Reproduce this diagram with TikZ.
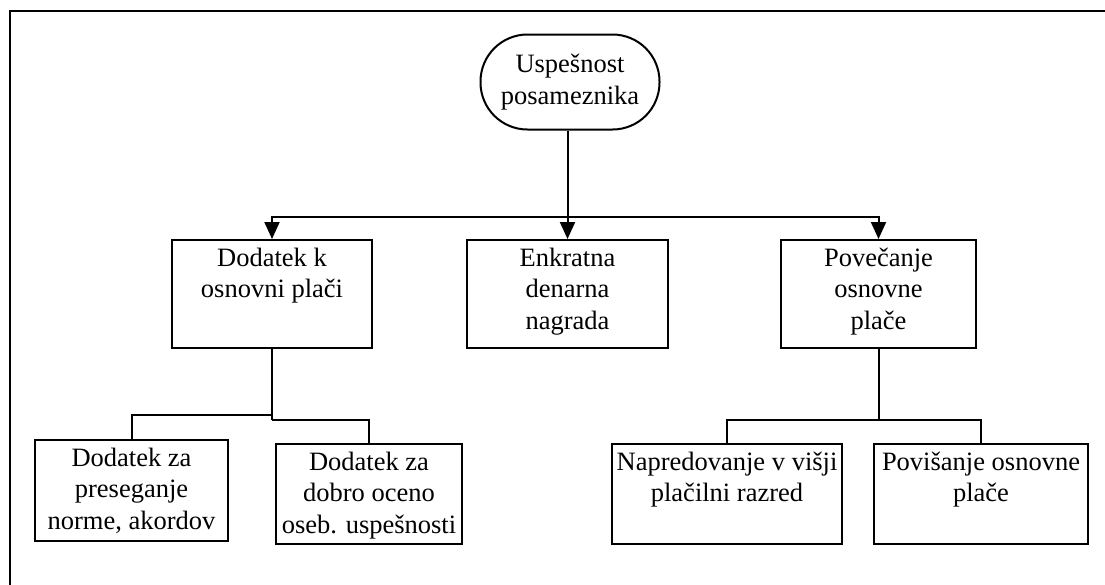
\documentclass[tikz,border=0pt]{standalone}
\usepackage{fontspec}
\setmainfont{Liberation Serif}
\usetikzlibrary{arrows.meta}
% fixed-size cell with its text set from the top
\newcommand{\celltext}[3]{\parbox[t][#2][t]{#1}{\centering\rule{0pt}{26pt}#3}}
\begin{document}
\begin{tikzpicture}[x=1pt,y=-1pt,
  every node/.style={font=\fontsize{26.5}{31.5}\selectfont},
  cell/.style={draw, line width=2pt, inner sep=0pt},
  term/.style={draw, line width=2pt, rounded corners=47pt,
    minimum width=179pt, minimum height=95pt, align=center, inner sep=0pt},
  link/.style={line width=2pt},
  arrowlink/.style={link, -{Triangle[length=17pt,width=15pt]}}]
\useasboundingbox (0,0) rectangle (1105,584);
% frame
\draw[link] (10,600) -- (10,11) -- (1120,11);

% root
\node[term] (t) at (570,82) {Uspešnost\\posameznika};

% first level
\node[cell] (b1) at (272,294)   {\celltext{200pt}{108pt}{Dodatek k\\osnovni plači}};
\node[cell] (b2) at (567.5,294) {\celltext{201pt}{108pt}{Enkratna\\denarna\\nagrada}};
\node[cell] (b3) at (878.5,294) {\celltext{195pt}{108pt}{Povečanje\\osnovne\\plače}};

% second level
\node[cell] (b4) at (131.5,490.5) {\celltext{193pt}{101pt}{Dodatek za\\preseganje\\norme, akordov}};
\node[cell] (b5) at (369,494)     {\celltext{186pt}{100pt}{Dodatek za\\dobro oceno\\oseb. uspešnosti}};
\node[cell] (b6) at (727,494)     {\celltext{230pt}{100pt}{Napredovanje v višji\\plačilni razred}};
\node[cell] (b7) at (981,494)     {\celltext{214pt}{100pt}{Povišanje osnovne\\plače}};

% root to first level
\coordinate (top) at (567.5,217);
\draw[link] (b2.north |- t.south) -- (top);
\draw[arrowlink] (top) -- (b2.north);
\draw[arrowlink] (top) -| (b1.north);
\draw[arrowlink] (top) -| (b3.north);

% left branch
\coordinate (ja) at (272,415);
\coordinate (jb) at (272,420);
\draw[link] (b1.south) -- (jb);
\draw[link] (ja) -| (b4.north);
\draw[link] (jb) -| (b5.north);

% right branch
\coordinate (jc) at (878.5,420);
\draw[link] (b3.south) -- (jc);
\draw[link] (jc) -| (b6.north);
\draw[link] (jc) -| (b7.north);
\end{tikzpicture}
\end{document}
